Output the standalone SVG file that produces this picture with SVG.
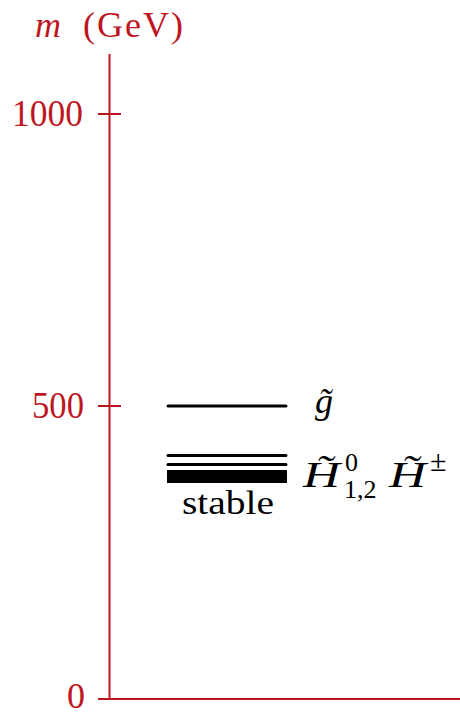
<svg xmlns="http://www.w3.org/2000/svg" width="460" height="716" viewBox="0 0 460 716">
<style>
.ax{stroke:#bd1622;stroke-width:2;fill:none}
.rt{fill:#bd1622;font-family:"Liberation Serif",serif}
.lv{stroke:#000;stroke-width:3;stroke-linecap:round}
.bt{fill:#000;font-family:"Liberation Serif",serif}
</style>
<rect width="460" height="716" fill="#fff"/>
<g id="axis">
<line class="ax" x1="109.5" y1="54" x2="109.5" y2="699"/>
<line class="ax" x1="98" y1="699" x2="460" y2="699"/>
<line class="ax" x1="98" y1="114" x2="121" y2="114"/>
<line class="ax" x1="98" y1="406" x2="121" y2="406"/>
<text class="rt" x="35" y="37" font-size="36" font-style="italic">m</text>
<text class="rt" x="83" y="37" font-size="36" textLength="100">(GeV)</text>
<text class="rt" x="12" y="126" font-size="37" textLength="71" lengthAdjust="spacingAndGlyphs">1000</text>
<text class="rt" x="32" y="418" font-size="37" textLength="52" lengthAdjust="spacingAndGlyphs">500</text>
<text class="rt" x="67" y="708" font-size="35" textLength="18" lengthAdjust="spacingAndGlyphs">0</text>
</g>
<g id="gluino">
<line class="lv" x1="168" y1="406" x2="286" y2="406"/>
<text class="bt" x="315" y="413" font-size="36" font-style="italic">g&#771;</text>
</g>
<g id="higgsino">
<line class="lv" x1="168" y1="455.5" x2="286" y2="455.5"/>
<line class="lv" x1="168" y1="464.5" x2="286" y2="464.5"/>
<rect x="167" y="470" width="120" height="13" fill="#000"/>
<text class="bt" x="182" y="514" font-size="33" textLength="92" lengthAdjust="spacingAndGlyphs">stable</text>
<text class="bt" x="303" y="487" font-size="36" font-style="italic" textLength="37" lengthAdjust="spacingAndGlyphs">H&#771;</text>
<text class="bt" x="345" y="471" font-size="26">0</text>
<text class="bt" x="344" y="498" font-size="26">1,2</text>
<text class="bt" x="389" y="487" font-size="36" font-style="italic" textLength="37" lengthAdjust="spacingAndGlyphs">H&#771;</text>
<text class="bt" x="430" y="471" font-size="30">±</text>
</g>
</svg>
